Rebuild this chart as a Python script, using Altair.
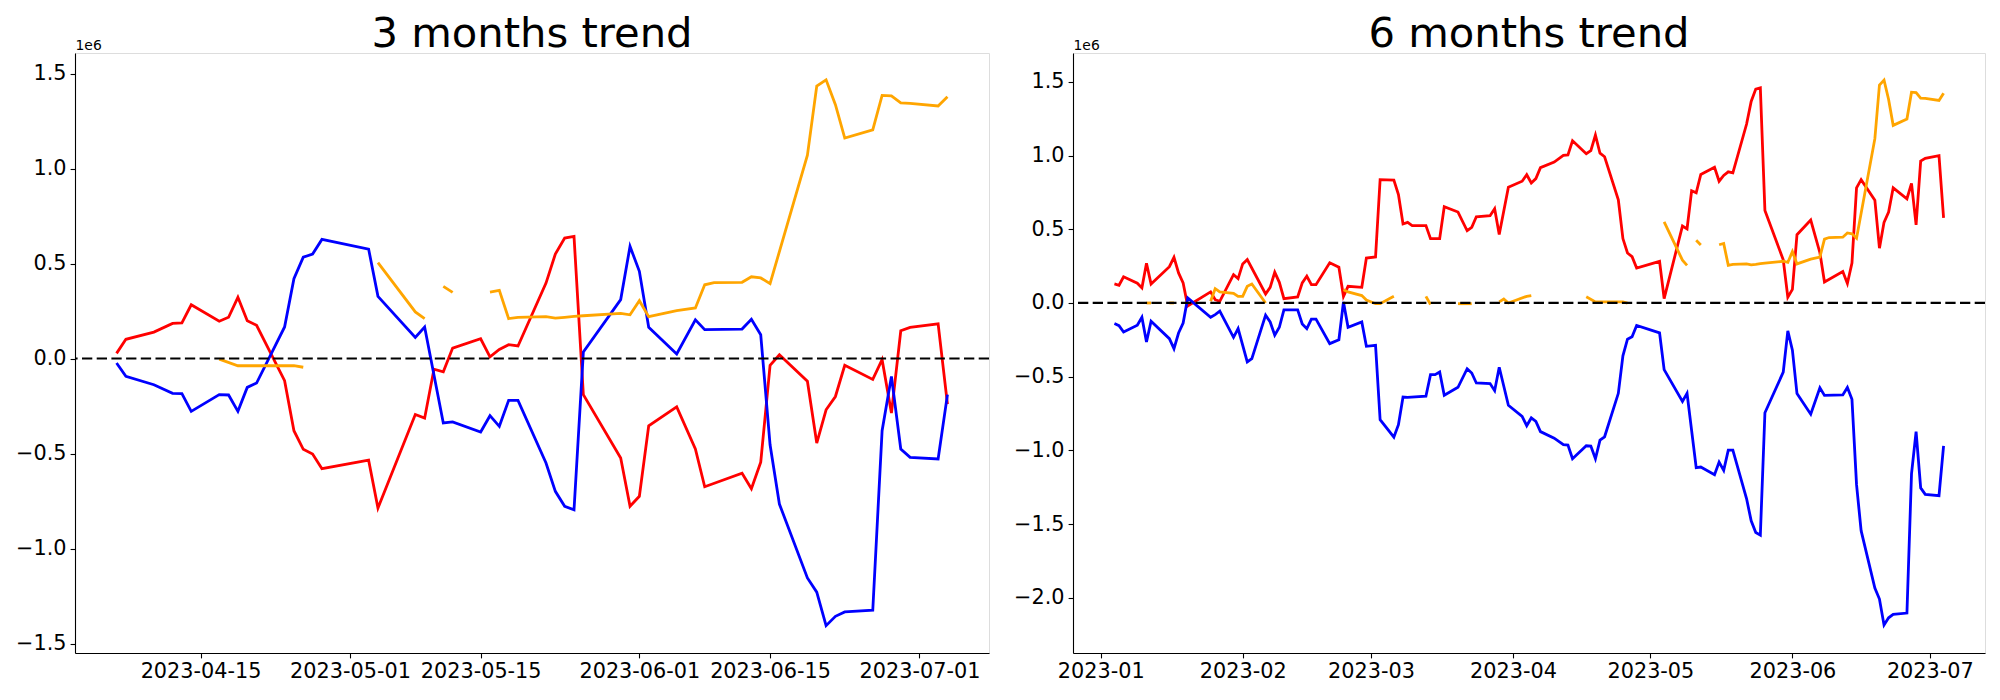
import altair as alt
import pandas as pd

FONT = "DejaVu Sans"

# ---------------- 3 months panel (values in units of 1e6) ----------------
red_3m_dates = ["2023-04-06", "2023-04-07", "2023-04-10", "2023-04-12", "2023-04-13", "2023-04-14",
                "2023-04-17", "2023-04-18", "2023-04-19", "2023-04-20", "2023-04-21", "2023-04-24",
                "2023-04-25", "2023-04-26", "2023-04-27", "2023-04-28", "2023-05-03", "2023-05-04",
                "2023-05-08", "2023-05-09", "2023-05-10", "2023-05-11", "2023-05-12", "2023-05-15",
                "2023-05-16", "2023-05-17", "2023-05-18", "2023-05-19", "2023-05-22", "2023-05-23",
                "2023-05-24", "2023-05-25", "2023-05-26", "2023-05-30", "2023-05-31", "2023-06-01",
                "2023-06-02", "2023-06-05", "2023-06-07", "2023-06-08", "2023-06-12", "2023-06-13",
                "2023-06-14", "2023-06-15", "2023-06-16", "2023-06-19", "2023-06-20", "2023-06-21",
                "2023-06-22", "2023-06-23", "2023-06-26", "2023-06-27", "2023-06-28", "2023-06-29",
                "2023-06-30", "2023-07-03", "2023-07-04"]
red_3m = [0.027, 0.101, 0.139, 0.185, 0.188, 0.283,
          0.196, 0.217, 0.322, 0.199, 0.175, -0.117,
          -0.380, -0.478, -0.503, -0.580, -0.535, -0.787,
          -0.295, -0.314, -0.056, -0.070, 0.055, 0.104,
          0.009, 0.048, 0.073, 0.066, 0.397, 0.550,
          0.634, 0.643, -0.190, -0.524, -0.778, -0.725,
          -0.354, -0.255, -0.476, -0.675, -0.604, -0.685,
          -0.546, -0.036, 0.020, -0.120, -0.445, -0.270,
          -0.200, -0.036, -0.110, -0.006, -0.287, 0.146,
          0.164, 0.182, -0.240]

blue_3m_dates = ["2023-04-06", "2023-04-07", "2023-04-10", "2023-04-12", "2023-04-13", "2023-04-14",
                 "2023-04-17", "2023-04-18", "2023-04-19", "2023-04-20", "2023-04-21", "2023-04-24",
                 "2023-04-25", "2023-04-26", "2023-04-27", "2023-04-28", "2023-05-03", "2023-05-04",
                 "2023-05-08", "2023-05-09", "2023-05-11", "2023-05-12", "2023-05-15", "2023-05-16",
                 "2023-05-17", "2023-05-18", "2023-05-19", "2023-05-22", "2023-05-23", "2023-05-24",
                 "2023-05-25", "2023-05-26", "2023-05-30", "2023-05-31", "2023-06-01", "2023-06-02",
                 "2023-06-05", "2023-06-07", "2023-06-08", "2023-06-12", "2023-06-13", "2023-06-14",
                 "2023-06-15", "2023-06-16", "2023-06-19", "2023-06-20", "2023-06-21", "2023-06-22",
                 "2023-06-23", "2023-06-26", "2023-06-27", "2023-06-28", "2023-06-29", "2023-06-30",
                 "2023-07-03", "2023-07-04"]
blue_3m = [-0.024, -0.094, -0.138, -0.183, -0.185, -0.278,
           -0.190, -0.192, -0.278, -0.152, -0.129, 0.166,
           0.420, 0.533, 0.550, 0.627, 0.576, 0.327,
           0.111, 0.166, -0.339, -0.334, -0.387, -0.301,
           -0.357, -0.220, -0.220, -0.550, -0.699, -0.778,
           -0.796, 0.034, 0.310, 0.590, 0.459, 0.164,
           0.024, 0.204, 0.152, 0.155, 0.206, 0.125,
           -0.454, -0.766, -1.155, -1.230, -1.406, -1.357,
           -1.334, -1.325, -0.380, -0.094, -0.476, -0.520,
           -0.529, -0.190]

orange_3m_dates = ["2023-04-17", "2023-04-19", "2023-04-20", "2023-04-21", "2023-04-24", "2023-04-25",
                   "2023-04-26", "2023-04-27", "2023-05-04", "2023-05-08", "2023-05-09", "2023-05-10",
                   "2023-05-11", "2023-05-12", "2023-05-15", "2023-05-16", "2023-05-17", "2023-05-18",
                   "2023-05-19", "2023-05-22", "2023-05-23", "2023-05-24", "2023-05-25", "2023-05-26",
                   "2023-05-30", "2023-05-31", "2023-06-01", "2023-06-02", "2023-06-05", "2023-06-07",
                   "2023-06-08", "2023-06-09", "2023-06-12", "2023-06-13", "2023-06-14", "2023-06-15",
                   "2023-06-19", "2023-06-20", "2023-06-21", "2023-06-22", "2023-06-23", "2023-06-26",
                   "2023-06-27", "2023-06-28", "2023-06-29", "2023-06-30", "2023-07-03", "2023-07-04"]
orange_3m = [-0.003, -0.038, -0.038, -0.038, -0.038, -0.038,
             -0.046, None, 0.505, 0.245, 0.210, None,
             0.380, 0.348, None, 0.350, 0.359, 0.210,
             0.217, 0.220, 0.213, 0.217, 0.222, 0.225,
             0.238, 0.230, 0.304, 0.220, 0.252, 0.266,
             0.388, 0.399, 0.401, 0.430, 0.424, 0.394,
             1.070, 1.434, 1.467, 1.336, 1.160, 1.203,
             1.385, 1.382, 1.345, 1.343, 1.329, 1.378]

# ---------------- 6 months panel (values in units of 1e6) ----------------
red_6m_dates = ["2023-01-04", "2023-01-05", "2023-01-06", "2023-01-09", "2023-01-10", "2023-01-11",
                "2023-01-12", "2023-01-16", "2023-01-17", "2023-01-18", "2023-01-19", "2023-01-20",
                "2023-01-25", "2023-01-26", "2023-01-27", "2023-01-30", "2023-01-31", "2023-02-01",
                "2023-02-02", "2023-02-06", "2023-02-07", "2023-02-08", "2023-02-09", "2023-02-10",
                "2023-02-13", "2023-02-14", "2023-02-15", "2023-02-16", "2023-02-17", "2023-02-20",
                "2023-02-22", "2023-02-23", "2023-02-24", "2023-02-27", "2023-02-28", "2023-03-02",
                "2023-03-03", "2023-03-06", "2023-03-07", "2023-03-08", "2023-03-09", "2023-03-10",
                "2023-03-13", "2023-03-14", "2023-03-16", "2023-03-17", "2023-03-20", "2023-03-22",
                "2023-03-23", "2023-03-24", "2023-03-27", "2023-03-28", "2023-03-29", "2023-03-31",
                "2023-04-03", "2023-04-04", "2023-04-05", "2023-04-06", "2023-04-07", "2023-04-10",
                "2023-04-12", "2023-04-13", "2023-04-14", "2023-04-17", "2023-04-18", "2023-04-19",
                "2023-04-20", "2023-04-21", "2023-04-24", "2023-04-25", "2023-04-26", "2023-04-27",
                "2023-04-28", "2023-05-03", "2023-05-04", "2023-05-08", "2023-05-09", "2023-05-10",
                "2023-05-11", "2023-05-12", "2023-05-15", "2023-05-16", "2023-05-17", "2023-05-18",
                "2023-05-19", "2023-05-22", "2023-05-23", "2023-05-24", "2023-05-25", "2023-05-26",
                "2023-05-30", "2023-05-31", "2023-06-01", "2023-06-02", "2023-06-05", "2023-06-07",
                "2023-06-08", "2023-06-12", "2023-06-13", "2023-06-14", "2023-06-15", "2023-06-16",
                "2023-06-19", "2023-06-20", "2023-06-21", "2023-06-22", "2023-06-23", "2023-06-26",
                "2023-06-27", "2023-06-28", "2023-06-29", "2023-06-30", "2023-07-03", "2023-07-04"]
red_6m = [0.129, 0.120, 0.178, 0.134, 0.102, 0.269,
          0.129, 0.246, 0.310, 0.204, 0.136, -0.020,
          0.075, 0.022, 0.011, 0.192, 0.165, 0.265,
          0.294, 0.061, 0.106, 0.208, 0.140, 0.029,
          0.041, 0.136, 0.181, 0.124, 0.124, 0.273,
          0.242, 0.045, 0.113, 0.106, 0.305, 0.312,
          0.837, 0.834, 0.735, 0.536, 0.547, 0.525,
          0.525, 0.436, 0.436, 0.653, 0.617, 0.490,
          0.513, 0.585, 0.592, 0.640, 0.464, 0.785,
          0.826, 0.870, 0.814, 0.844, 0.918, 0.956,
          1.002, 1.005, 1.100, 1.013, 1.034, 1.139,
          1.016, 0.992, 0.700, 0.437, 0.339, 0.314,
          0.237, 0.282, 0.030, 0.522, 0.503, 0.761,
          0.747, 0.872, 0.921, 0.826, 0.865, 0.890,
          0.883, 1.214, 1.367, 1.451, 1.460, 0.627,
          0.293, 0.039, 0.092, 0.463, 0.562, 0.341,
          0.142, 0.213, 0.132, 0.271, 0.781, 0.837,
          0.697, 0.372, 0.547, 0.617, 0.781, 0.707,
          0.811, 0.530, 0.963, 0.981, 0.999, 0.577]

blue_6m_dates = ["2023-01-04", "2023-01-05", "2023-01-06", "2023-01-09", "2023-01-10", "2023-01-11",
                 "2023-01-12", "2023-01-16", "2023-01-17", "2023-01-18", "2023-01-19", "2023-01-20",
                 "2023-01-25", "2023-01-26", "2023-01-27", "2023-01-30", "2023-01-31", "2023-02-02",
                 "2023-02-03", "2023-02-06", "2023-02-07", "2023-02-08", "2023-02-09", "2023-02-10",
                 "2023-02-13", "2023-02-14", "2023-02-15", "2023-02-16", "2023-02-17", "2023-02-20",
                 "2023-02-22", "2023-02-23", "2023-02-24", "2023-02-27", "2023-02-28", "2023-03-02",
                 "2023-03-03", "2023-03-06", "2023-03-07", "2023-03-08", "2023-03-09", "2023-03-13",
                 "2023-03-14", "2023-03-15", "2023-03-16", "2023-03-17", "2023-03-20", "2023-03-22",
                 "2023-03-23", "2023-03-24", "2023-03-27", "2023-03-28", "2023-03-29", "2023-03-31",
                 "2023-04-03", "2023-04-04", "2023-04-05", "2023-04-06", "2023-04-07", "2023-04-10",
                 "2023-04-12", "2023-04-13", "2023-04-14", "2023-04-17", "2023-04-18", "2023-04-19",
                 "2023-04-20", "2023-04-21", "2023-04-24", "2023-04-25", "2023-04-26", "2023-04-27",
                 "2023-04-28", "2023-05-03", "2023-05-04", "2023-05-08", "2023-05-09", "2023-05-11",
                 "2023-05-12", "2023-05-15", "2023-05-16", "2023-05-17", "2023-05-18", "2023-05-19",
                 "2023-05-22", "2023-05-23", "2023-05-24", "2023-05-25", "2023-05-26", "2023-05-30",
                 "2023-05-31", "2023-06-01", "2023-06-02", "2023-06-05", "2023-06-07", "2023-06-08",
                 "2023-06-12", "2023-06-13", "2023-06-14", "2023-06-15", "2023-06-16", "2023-06-19",
                 "2023-06-20", "2023-06-21", "2023-06-22", "2023-06-23", "2023-06-26", "2023-06-27",
                 "2023-06-28", "2023-06-29", "2023-06-30", "2023-07-03", "2023-07-04"]
blue_6m = [-0.140, -0.154, -0.197, -0.151, -0.097, -0.265,
           -0.124, -0.242, -0.310, -0.204, -0.136, 0.034,
           -0.097, -0.079, -0.056, -0.233, -0.174, -0.400,
           -0.378, -0.083, -0.129, -0.219, -0.165, -0.047,
           -0.047, -0.142, -0.174, -0.109, -0.109, -0.276,
           -0.249, 0.007, -0.165, -0.129, -0.294, -0.287,
           -0.792, -0.911, -0.826, -0.638, -0.640, -0.633,
           -0.486, -0.486, -0.468, -0.626, -0.572, -0.446,
           -0.475, -0.543, -0.547, -0.595, -0.436, -0.694,
           -0.769, -0.833, -0.780, -0.803, -0.873, -0.917,
           -0.962, -0.964, -1.057, -0.969, -0.971, -1.057,
           -0.931, -0.908, -0.613, -0.359, -0.246, -0.229,
           -0.152, -0.203, -0.452, -0.668, -0.613, -1.118,
           -1.113, -1.166, -1.080, -1.136, -0.999, -0.999,
           -1.329, -1.478, -1.557, -1.575, -0.745, -0.469,
           -0.189, -0.320, -0.615, -0.755, -0.575, -0.627,
           -0.624, -0.573, -0.654, -1.233, -1.545, -1.934,
           -2.009, -2.185, -2.136, -2.113, -2.104, -1.159,
           -0.873, -1.255, -1.299, -1.308, -0.969]

orange_6m_dates = ["2023-01-11", "2023-01-12", "2023-01-13", "2023-01-16", "2023-01-17", "2023-01-18",
                   "2023-01-25", "2023-01-26", "2023-01-27", "2023-01-30", "2023-01-31", "2023-02-01",
                   "2023-02-02", "2023-02-03", "2023-02-06", "2023-02-07", "2023-02-23", "2023-02-24",
                   "2023-02-27", "2023-02-28", "2023-03-02", "2023-03-03", "2023-03-06", "2023-03-07",
                   "2023-03-13", "2023-03-14", "2023-03-15", "2023-03-20", "2023-03-23", "2023-03-24",
                   "2023-03-29", "2023-03-30", "2023-03-31", "2023-04-04", "2023-04-05", "2023-04-06",
                   "2023-04-17", "2023-04-19", "2023-04-20", "2023-04-21", "2023-04-24", "2023-04-25",
                   "2023-04-26", "2023-04-27", "2023-05-04", "2023-05-08", "2023-05-09", "2023-05-10",
                   "2023-05-11", "2023-05-12", "2023-05-15", "2023-05-16", "2023-05-17", "2023-05-18",
                   "2023-05-19", "2023-05-22", "2023-05-23", "2023-05-24", "2023-05-25", "2023-05-26",
                   "2023-05-30", "2023-05-31", "2023-06-01", "2023-06-02", "2023-06-05", "2023-06-07",
                   "2023-06-08", "2023-06-09", "2023-06-12", "2023-06-13", "2023-06-14", "2023-06-15",
                   "2023-06-19", "2023-06-20", "2023-06-21", "2023-06-22", "2023-06-23", "2023-06-26",
                   "2023-06-27", "2023-06-28", "2023-06-29", "2023-06-30", "2023-07-03", "2023-07-04"]
orange_6m = [0.000, 0.000, None, 0.000, 0.000, None,
             0.011, 0.097, 0.075, 0.066, 0.045, 0.045,
             0.113, 0.129, 0.000, None, 0.090, 0.075,
             0.050, 0.020, -0.005, -0.005, 0.045, None,
             0.045, -0.010, None, -0.005, -0.005, None,
             0.007, 0.027, 0.000, 0.045, 0.050, None,
             0.042, 0.007, 0.007, 0.007, 0.007, 0.007,
             -0.001, None, 0.550, 0.290, 0.255, None,
             0.425, 0.393, None, 0.395, 0.404, 0.255,
             0.262, 0.265, 0.258, 0.262, 0.267, 0.270,
             0.283, 0.275, 0.349, 0.265, 0.297, 0.311,
             0.433, 0.444, 0.446, 0.475, 0.469, 0.439,
             1.115, 1.479, 1.512, 1.381, 1.205, 1.248,
             1.430, 1.427, 1.390, 1.388, 1.374, 1.423]


def make_df(dates, values):
    rows, seg = [], 0
    for d, v in zip(dates, values):
        if v is None:
            seg += 1
            continue
        rows.append({"date": d, "value": v, "seg": seg})
    return pd.DataFrame(rows)


def panel(title, series, x_dom, x_ticks, x_fmt, y_dom, width):
    x_axis = alt.Axis(values=x_ticks, format=x_fmt, labelAngle=0, grid=False, title=None,
                      labelFontSize=20.8, labelFont=FONT, labelColor="black", tickSize=4.9,
                      tickColor="black", tickWidth=1.1, domainColor="black", domainWidth=1.1,
                      labelPadding=4, labelFlush=False, labelOverlap=False)
    y_axis = alt.Axis(values=[-2.0, -1.5, -1.0, -0.5, 0.0, 0.5, 1.0, 1.5], format=".1f",
                      grid=False, title="1e6", titleAngle=0, titleAlign="left",
                      titleBaseline="alphabetic", titleX=0, titleY=-4, titleFontSize=13.9,
                      titleFontWeight="normal", titleFont=FONT, titleColor="black",
                      labelFontSize=20.8, labelFont=FONT, labelColor="black", tickSize=4.9,
                      tickColor="black", tickWidth=1.1, domainColor="black", domainWidth=1.1,
                      labelPadding=4, labelFlush=False, labelOverlap=False)
    xs = alt.Scale(type="utc", domain=x_dom, nice=False)
    ys = alt.Scale(domain=y_dom, nice=False, zero=False)
    layers = []
    for i, (dates, vals, color) in enumerate(series):
        df = make_df(dates, vals)
        if i == 0:
            x_enc = alt.X("date:T", scale=xs, axis=x_axis)
            y_enc = alt.Y("value:Q", scale=ys, axis=y_axis)
        else:
            x_enc = alt.X("date:T", scale=xs)
            y_enc = alt.Y("value:Q", scale=ys)
        layers.append(alt.Chart(df).mark_line(color=color, strokeWidth=2.8, clip=True).encode(
            x=x_enc, y=y_enc, detail="seg:N"))
    zero = alt.Chart(pd.DataFrame({"value": [0.0]})).mark_rule(
        color="black", strokeWidth=2.2, strokeDash=[10.3, 4.4]).encode(y=alt.Y("value:Q", scale=ys))
    return alt.layer(*layers, zero).properties(
        width=width, height=600,
        title=alt.TitleParams(title, fontSize=41.7, font=FONT, fontWeight="normal", color="black",
                              anchor="middle", frame="group", offset=-17.5),
    )


def dt(y, m, d, h=0, mi=0):
    return alt.DateTime(year=y, month=m, date=d, hours=h, minutes=mi, utc=True)


left = panel(
    "3 months trend",
    [(red_3m_dates, red_3m, "red"), (blue_3m_dates, blue_3m, "blue"), (orange_3m_dates, orange_3m, "orange")],
    [dt(2023, 4, 1, 13, 12), dt(2023, 7, 8, 10, 48)],
    [dt(2023, 4, 15), dt(2023, 5, 1), dt(2023, 5, 15), dt(2023, 6, 1), dt(2023, 6, 15), dt(2023, 7, 1)],
    "%Y-%m-%d",
    [-1.55, 1.608],
    914,
)
right = panel(
    "6 months trend",
    [(red_6m_dates, red_6m, "red"), (blue_6m_dates, blue_6m, "blue"), (orange_6m_dates, orange_6m, "orange")],
    [dt(2022, 12, 25, 23), dt(2023, 7, 13, 1)],
    [dt(2023, m, 1) for m in range(1, 8)],
    "%Y-%m",
    [-2.375, 1.696],
    912,
)

chart = alt.hconcat(left, right, spacing=22).properties(
    padding={"left": 7, "top": 5, "right": 5, "bottom": 5}
).configure_view(stroke="black", strokeWidth=1.1).configure(background="white")

chart.save("out.html", embed_options={"renderer": "svg", "actions": False})
